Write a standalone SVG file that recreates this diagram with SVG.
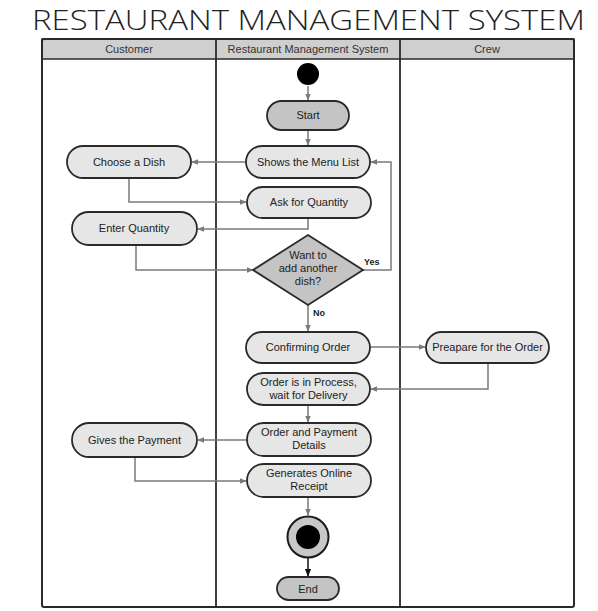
<svg xmlns="http://www.w3.org/2000/svg" width="598" height="611" viewBox="0 0 598 611">
<defs>
<style>
.t{font-family:"Liberation Sans",Arial,sans-serif;font-size:11px;fill:#222;text-anchor:middle}
.h{font-family:"Liberation Sans",Arial,sans-serif;font-size:11px;fill:#333;text-anchor:middle}
.n{fill:#e6e6e6;stroke:#2a2a2a;stroke-width:1.8}
.d{fill:#c4c4c4;stroke:#2a2a2a;stroke-width:1.8}
.c{fill:none;stroke:#7a7a7a;stroke-width:1.5}
.lbl{font-family:"Liberation Sans",Arial,sans-serif;font-size:9px;font-weight:bold;fill:#222}
</style>
<marker id="a" viewBox="0 0 10 10" refX="9" refY="5" markerWidth="7" markerHeight="7" orient="auto" markerUnits="userSpaceOnUse"><path d="M0,1 L10,5 L0,9 z" fill="#7a7a7a"/></marker>
<marker id="b" viewBox="0 0 10 10" refX="9" refY="5" markerWidth="8" markerHeight="8" orient="auto" markerUnits="userSpaceOnUse"><path d="M0,1 L10,5 L0,9 z" fill="#111"/></marker>
</defs>
<rect width="598" height="611" fill="#fff"/>
<text x="32" y="30" font-family="'Open Sans','DejaVu Sans',sans-serif" font-weight="300" font-size="28" fill="#222" textLength="553" lengthAdjust="spacingAndGlyphs">RESTAURANT MANAGEMENT SYSTEM</text>
<g id="lanes">
<rect x="42" y="39" width="532" height="20" fill="#cfcfcf" stroke="#2a2a2a" stroke-width="1.5"/>
<rect x="42" y="39" width="532" height="568" fill="none" stroke="#2a2a2a" stroke-width="2" rx="2"/>
<line x1="216" y1="39" x2="216" y2="607" stroke="#2a2a2a" stroke-width="1.8"/>
<line x1="400" y1="39" x2="400" y2="607" stroke="#2a2a2a" stroke-width="1.8"/>
<text class="h" x="129" y="52.5">Customer</text>
<text class="h" x="308" y="52.5">Restaurant Management System</text>
<text class="h" x="487" y="52.5">Crew</text>
</g>
<g id="connectors">
<line class="c" x1="308" y1="86" x2="308" y2="100" marker-end="url(#a)"/>
<line class="c" x1="308" y1="130" x2="308" y2="145" marker-end="url(#a)"/>
<line class="c" x1="246" y1="162" x2="192" y2="162" marker-end="url(#a)"/>
<polyline class="c" points="129,178 129,202 246,202" marker-end="url(#a)"/>
<polyline class="c" points="308,218 308,229 198,229" marker-end="url(#a)"/>
<polyline class="c" points="136,246 136,270 253,270" marker-end="url(#a)"/>
<polyline class="c" points="363,270 391,270 391,162 371,162" marker-end="url(#a)"/>
<line class="c" x1="308" y1="305" x2="308" y2="331" marker-end="url(#a)"/>
<line class="c" x1="370" y1="347" x2="425" y2="347" marker-end="url(#a)"/>
<polyline class="c" points="488,363 488,389 371,389" marker-end="url(#a)"/>
<line class="c" x1="308" y1="405" x2="308" y2="422" marker-end="url(#a)"/>
<line class="c" x1="247" y1="440" x2="198" y2="440" marker-end="url(#a)"/>
<polyline class="c" points="135,457 135,481 246,481" marker-end="url(#a)"/>
<line class="c" x1="308" y1="497" x2="308" y2="515" marker-end="url(#a)"/>
<line x1="308" y1="558" x2="308" y2="576" stroke="#111" stroke-width="1.5" marker-end="url(#b)"/>
<text class="lbl" x="364" y="265">Yes</text>
<text class="lbl" x="313" y="316">No</text>
</g>
<g id="initial"><circle cx="308" cy="74" r="11" fill="#000"/></g>
<g id="start"><rect class="d" x="267" y="101" width="82" height="29" rx="14.5"/><text class="t" x="308" y="119">Start</text></g>
<g id="menu"><rect class="n" x="246" y="146" width="124" height="32" rx="16"/><text class="t" x="308" y="166">Shows the Menu List</text></g>
<g id="dish"><rect class="n" x="67" y="146" width="124" height="32" rx="16"/><text class="t" x="129" y="166">Choose a Dish</text></g>
<g id="askqty"><rect class="n" x="247" y="187" width="124" height="31" rx="15.5"/><text class="t" x="309" y="206">Ask for Quantity</text></g>
<g id="enterqty"><rect class="n" x="72" y="212" width="125" height="33" rx="16.5"/><text class="t" x="134" y="232">Enter Quantity</text></g>
<g id="decision"><polygon class="d" points="308,235 363,270 308,305 253,270"/><text class="t" x="308" y="259">Want to</text><text class="t" x="308" y="272">add another</text><text class="t" x="308" y="285">dish?</text></g>
<g id="confirm"><rect class="n" x="246" y="332" width="124" height="31" rx="15.5"/><text class="t" x="308" y="351">Confirming Order</text></g>
<g id="prepare"><rect class="n" x="426" y="332" width="123" height="31" rx="15.5"/><text class="t" x="487.5" y="351">Preapare for the Order</text></g>
<g id="process"><rect class="n" x="247" y="373" width="123" height="32" rx="16"/><text class="t" x="308.5" y="386">Order is in Process,</text><text class="t" x="308.5" y="399">wait for Delivery</text></g>
<g id="details"><rect class="n" x="247" y="423" width="124" height="33" rx="16.5"/><text class="t" x="309" y="436">Order and Payment</text><text class="t" x="309" y="449">Details</text></g>
<g id="payment"><rect class="n" x="72" y="423" width="125" height="34" rx="17"/><text class="t" x="134.5" y="444">Gives the Payment</text></g>
<g id="receipt"><rect class="n" x="247" y="464" width="124" height="33" rx="16.5"/><text class="t" x="309" y="477">Generates Online</text><text class="t" x="309" y="490">Receipt</text></g>
<g id="final"><circle cx="308" cy="537" r="20.5" fill="#c8c8c8" stroke="#1a1a1a" stroke-width="2"/><circle cx="308" cy="537" r="12" fill="#000"/></g>
<g id="end"><rect class="d" x="277" y="577" width="62" height="23" rx="11.5"/><text class="t" x="308" y="592.5">End</text></g>
</svg>
